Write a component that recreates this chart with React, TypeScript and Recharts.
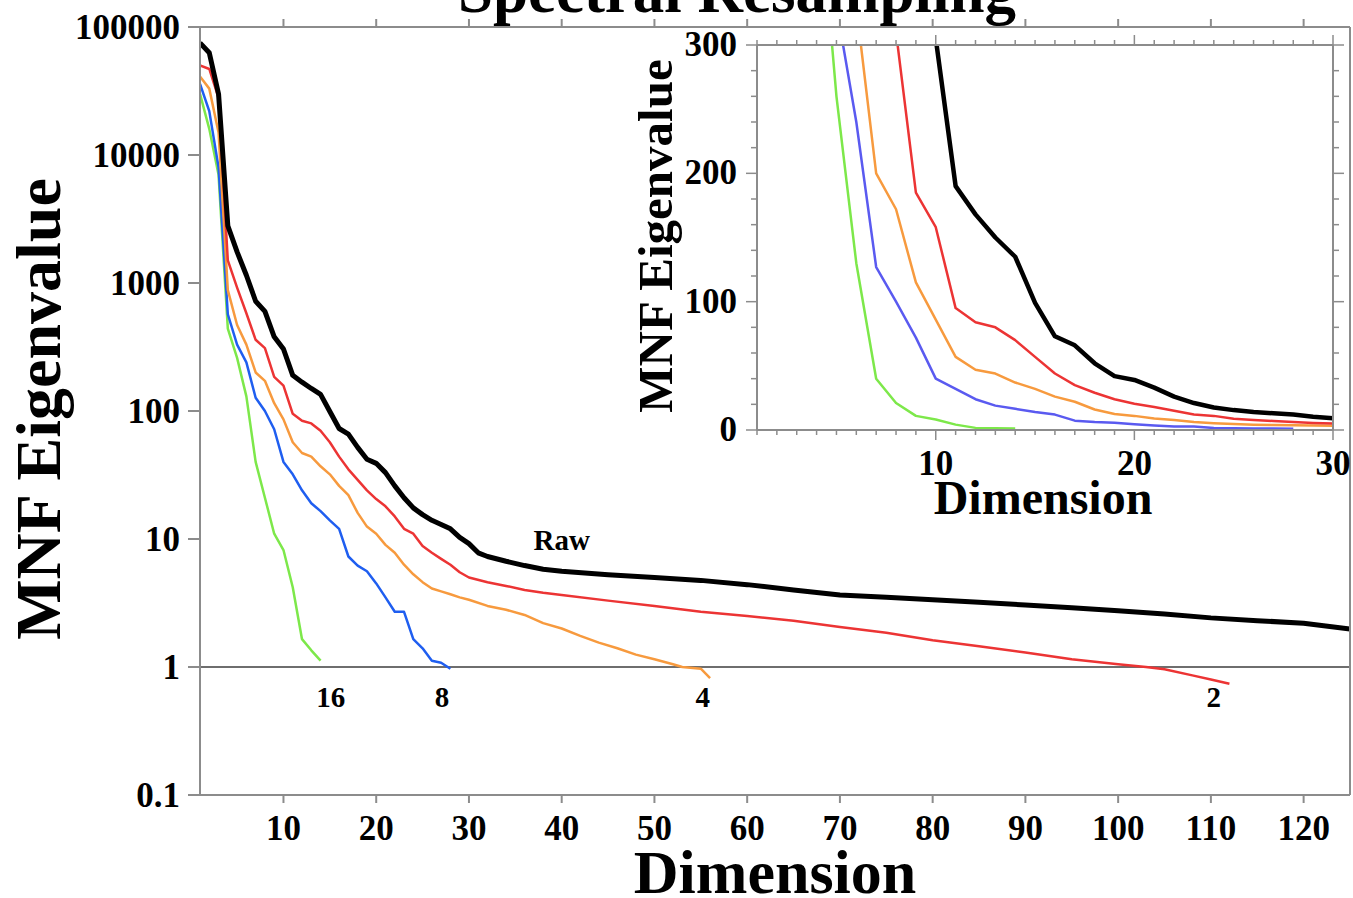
import { LineChart, Line, XAxis, YAxis, ReferenceLine, ReferenceDot } from 'recharts';

// MNF eigenvalue vs dimension, one series per resampling factor
const RAW_DIM = [1, 2, 3, 4, 5, 6, 7, 8, 9, 10, 11, 12, 13, 14, 15, 16, 17, 18, 19, 20, 21, 22, 23, 24, 25, 26, 27, 28, 29, 30, 31, 32, 34, 36, 38, 40, 45, 50, 55, 60, 65, 70, 75, 80, 85, 90, 95, 100, 105, 110, 115, 120, 125];
const RAW_VAL = [75000, 63000, 30000, 2800, 1750, 1150, 720, 600, 380, 305, 190, 168, 150, 135, 99, 73, 66, 52, 42, 39, 33, 26, 21, 17.5, 15.5, 14, 13, 12, 10.3, 9.2, 7.8, 7.3, 6.7, 6.2, 5.8, 5.6, 5.25, 5.0, 4.75, 4.4, 4.0, 3.65, 3.5, 3.35, 3.2, 3.05, 2.9, 2.75, 2.6, 2.42, 2.3, 2.2, 1.98];

const R2_DIM = [1, 2, 3, 4, 5, 6, 7, 8, 9, 10, 11, 12, 13, 14, 15, 16, 17, 18, 19, 20, 21, 22, 23, 24, 25, 26, 27, 28, 29, 30, 32, 34, 36, 38, 40, 45, 50, 55, 60, 65, 70, 75, 80, 85, 90, 95, 100, 103, 105, 108, 110, 112];
const R2_VAL = [50000, 47000, 28000, 1500, 920, 580, 360, 310, 185, 158, 95, 84, 80, 70, 57, 44, 35, 29, 24, 20.5, 18, 15, 12, 11, 8.8, 7.8, 7, 6.3, 5.5, 5.0, 4.6, 4.3, 4.0, 3.8, 3.65, 3.3, 3.0, 2.7, 2.5, 2.3, 2.05, 1.85, 1.62, 1.45, 1.3, 1.15, 1.05, 1.0, 0.96, 0.86, 0.8, 0.74];

const R4_DIM = [1, 2, 3, 4, 5, 6, 7, 8, 9, 10, 11, 12, 13, 14, 15, 16, 17, 18, 19, 20, 21, 22, 23, 24, 25, 26, 27, 28, 29, 30, 32, 34, 36, 38, 40, 42, 44, 46, 48, 50, 52, 53, 55, 56];
const R4_VAL = [41000, 33000, 15000, 880, 470, 330, 200, 172, 115, 86, 57, 47, 44, 37, 32, 26, 22, 16, 12.5, 11, 9, 7.8, 6.3, 5.3, 4.6, 4.1, 3.9, 3.7, 3.5, 3.35, 3.0, 2.8, 2.55, 2.2, 2.0, 1.75, 1.55, 1.4, 1.25, 1.15, 1.05, 1.0, 0.97, 0.82];

const R8_DIM = [1, 2, 3, 4, 5, 6, 7, 8, 9, 10, 11, 12, 13, 14, 15, 16, 17, 18, 19, 20, 21, 22, 23, 24, 25, 26, 27, 28];
const R8_VAL = [36000, 22000, 8000, 570, 330, 240, 127, 100, 72, 40, 32, 24, 19, 16.5, 14, 12, 7.3, 6.2, 5.6, 4.5, 3.5, 2.7, 2.7, 1.65, 1.4, 1.12, 1.08, 0.97];

const R16_DIM = [1, 2, 3, 4, 5, 6, 7, 8, 9, 10, 11, 12, 13, 14];
const R16_VAL = [30000, 16000, 7000, 440, 260, 130, 40, 21, 11, 8.2, 4.2, 1.65, 1.35, 1.12];

// curve labels on the main plot
const LABEL_TEXT = ['Raw', '16', '8', '4', '2'];
const LABEL_DIM = [40, 15.1, 27.1, 55.2, 110.3];
const LABEL_VAL = [9.8, 0.59, 0.59, 0.59, 0.59];

const MAIN_X_TICKS = [10, 20, 30, 40, 50, 60, 70, 80, 90, 100, 110, 120];
const MAIN_Y_TICKS = [0.1, 1, 10, 100, 1000, 10000, 100000];
const INSET_X_TICKS = [1, 2, 3, 4, 5, 6, 7, 8, 9, 10, 11, 12, 13, 14, 15, 16, 17, 18, 19, 20, 21, 22, 23, 24, 25, 26, 27, 28, 29, 30];
const INSET_Y_TICKS = [0, 20, 40, 60, 80, 100, 120, 140, 160, 180, 200, 220, 240, 260, 280, 300];

const FONT = '"Liberation Serif", "Times New Roman", serif';
const AXIS = '#8c8c8c';

const toPoints = (dims: number[], vals: number[]) => dims.map((d, i) => ({ d, v: vals[i] }));

const SERIES = [
  { name: '16', data: toPoints(R16_DIM, R16_VAL), color: '#7de84a', inset: '#7de84a', width: 2.5 },
  { name: '8', data: toPoints(R8_DIM, R8_VAL), color: '#1f5ef0', inset: '#5a5af0', width: 2.5 },
  { name: '4', data: toPoints(R4_DIM, R4_VAL), color: '#f79a3e', inset: '#f79a3e', width: 2.5 },
  { name: '2', data: toPoints(R2_DIM, R2_VAL), color: '#ec3434', inset: '#ec3434', width: 2.5 },
  { name: 'Raw', data: toPoints(RAW_DIM, RAW_VAL), color: '#000000', inset: '#000000', width: 5 },
];

const labelStyle = { fontFamily: FONT, fontWeight: 'bold' as const, fill: '#000' };

// tick renderers (tickSize/tickMargin are 0, so x/y sit on the axis line)
function MainBottomTick({ x, y, payload }: any) {
  return (
    <g>
      <line x1={x} y1={y} x2={x} y2={y + 8} stroke={AXIS} strokeWidth={2} />
      <text x={x} y={y + 45} textAnchor="middle" fontSize={35} {...labelStyle}>{payload.value}</text>
    </g>
  );
}
function MainTopTick({ x, y }: any) {
  return <line x1={x} y1={y} x2={x} y2={y - 8} stroke={AXIS} strokeWidth={2} />;
}
function MainLeftTick({ x, y, payload }: any) {
  return (
    <g>
      <line x1={x - 12} y1={y} x2={x} y2={y} stroke={AXIS} strokeWidth={2} />
      <text x={x - 20} y={y + 12} textAnchor="end" fontSize={35} {...labelStyle}>{String(payload.value)}</text>
    </g>
  );
}
function InsetBottomTick({ x, y, payload }: any) {
  const major = payload.value % 10 === 0;
  return (
    <g>
      <line x1={x} y1={y} x2={x} y2={y + (major ? 10 : 5)} stroke={AXIS} strokeWidth={1.5} />
      {major && <text x={x} y={y + 45} textAnchor="middle" fontSize={35} {...labelStyle}>{payload.value}</text>}
    </g>
  );
}
function InsetTopTick({ x, y, payload }: any) {
  const major = payload.value % 10 === 0;
  return <line x1={x} y1={y} x2={x} y2={y - (major ? 10 : 5)} stroke={AXIS} strokeWidth={1.5} />;
}
function InsetLeftTick({ x, y, payload }: any) {
  const major = payload.value % 100 === 0;
  return (
    <g>
      <line x1={x - (major ? 11 : 6)} y1={y} x2={x} y2={y} stroke={AXIS} strokeWidth={1.5} />
      {major && <text x={x - 20} y={y + 11} textAnchor="end" fontSize={35} {...labelStyle}>{payload.value}</text>}
    </g>
  );
}
function InsetRightTick({ x, y, payload }: any) {
  const major = payload.value % 100 === 0;
  return <line x1={x} y1={y} x2={x + (major ? 11 : 6)} y2={y} stroke={AXIS} strokeWidth={1.5} />;
}

function MainChart() {
  return (
    <LineChart width={1353} height={898} margin={{ top: 17, right: 0, bottom: 43, left: 80 }}>
      <XAxis xAxisId="b" dataKey="d" type="number" domain={[1, 125]} allowDataOverflow ticks={MAIN_X_TICKS} interval={0}
        height={60} tickSize={0} tickMargin={0} tickLine={false} axisLine={{ stroke: AXIS, strokeWidth: 2 }} tick={MainBottomTick} />
      <XAxis xAxisId="t" orientation="top" dataKey="d" type="number" domain={[1, 125]} allowDataOverflow ticks={MAIN_X_TICKS} interval={0}
        height={10} tickSize={0} tickMargin={0} tickLine={false} axisLine={{ stroke: AXIS, strokeWidth: 2 }} tick={MainTopTick} />
      <YAxis yAxisId="l" scale="log" type="number" domain={[0.1, 100000]} allowDataOverflow ticks={MAIN_Y_TICKS} interval={0}
        width={120} tickSize={0} tickMargin={0} tickLine={false} axisLine={{ stroke: AXIS, strokeWidth: 2 }} tick={MainLeftTick} />
      <YAxis yAxisId="r" orientation="right" scale="log" type="number" domain={[0.1, 100000]} allowDataOverflow ticks={MAIN_Y_TICKS}
        width={3} tick={false} tickLine={false} axisLine={{ stroke: AXIS, strokeWidth: 2 }} />
      <ReferenceLine xAxisId="b" yAxisId="l" y={1} stroke="#6e6e6e" strokeWidth={2} />
      {SERIES.map((s) => (
        <Line key={s.name} xAxisId="b" yAxisId="l" data={s.data} dataKey="v" type="linear" stroke={s.color}
          strokeWidth={s.width} dot={false} strokeLinejoin="round" isAnimationActive={false} />
      ))}
      {LABEL_TEXT.map((t, i) => (
        <ReferenceDot key={t} xAxisId="b" yAxisId="l" x={LABEL_DIM[i]} y={LABEL_VAL[i]} r={0} fill="none" stroke="none"
          label={{ value: t, position: 'center', fontSize: 29, ...labelStyle }} />
      ))}
    </LineChart>
  );
}

function InsetChart() {
  return (
    <LineChart width={730} height={520} margin={{ top: 15, right: 7, bottom: 50, left: 77 }}>
      <XAxis xAxisId="b" dataKey="d" type="number" domain={[1, 30]} allowDataOverflow ticks={INSET_X_TICKS} interval={0}
        height={60} tickSize={0} tickMargin={0} tickLine={false} axisLine={{ stroke: AXIS, strokeWidth: 2 }} tick={InsetBottomTick} />
      <XAxis xAxisId="t" orientation="top" dataKey="d" type="number" domain={[1, 30]} allowDataOverflow ticks={INSET_X_TICKS} interval={0}
        height={10} tickSize={0} tickMargin={0} tickLine={false} axisLine={{ stroke: AXIS, strokeWidth: 2 }} tick={InsetTopTick} />
      <YAxis yAxisId="l" type="number" domain={[0, 300]} allowDataOverflow ticks={INSET_Y_TICKS} interval={0}
        width={60} tickSize={0} tickMargin={0} tickLine={false} axisLine={{ stroke: AXIS, strokeWidth: 2 }} tick={InsetLeftTick} />
      <YAxis yAxisId="r" orientation="right" type="number" domain={[0, 300]} allowDataOverflow ticks={INSET_Y_TICKS} interval={0}
        width={10} tickSize={0} tickMargin={0} tickLine={false} axisLine={{ stroke: AXIS, strokeWidth: 2 }} tick={InsetRightTick} />
      {SERIES.map((s) => (
        <Line key={s.name} xAxisId="b" yAxisId="l" data={s.data} dataKey="v" type="linear" stroke={s.inset}
          strokeWidth={s.name === 'Raw' ? 4.5 : 2.5} dot={false} strokeLinejoin="round" isAnimationActive={false} />
      ))}
    </LineChart>
  );
}

export default function App() {
  return (
    <div style={{ position: 'absolute', left: 0, top: 0, width: 1353, height: 898, background: '#fff', overflow: 'hidden' }}>
      <MainChart />
      <div style={{ position: 'absolute', left: 620, top: 20 }}>
        <InsetChart />
      </div>
      <svg width={1353} height={898} style={{ position: 'absolute', left: 0, top: 0, pointerEvents: 'none' }}>
        <text x={737} y={12} textAnchor="middle" fontSize={63} {...labelStyle}>Spectral Resampling</text>
        <text x={775} y={893} textAnchor="middle" fontSize={62} {...labelStyle}>Dimension</text>
        <text transform="translate(60,409) rotate(-90)" textAnchor="middle" fontSize={64} {...labelStyle}>MNF Eigenvalue</text>
        <text x={1043} y={514} textAnchor="middle" fontSize={48} {...labelStyle}>Dimension</text>
        <text transform="translate(672,236) rotate(-90)" textAnchor="middle" fontSize={49} {...labelStyle}>MNF Eigenvalue</text>
      </svg>
    </div>
  );
}
